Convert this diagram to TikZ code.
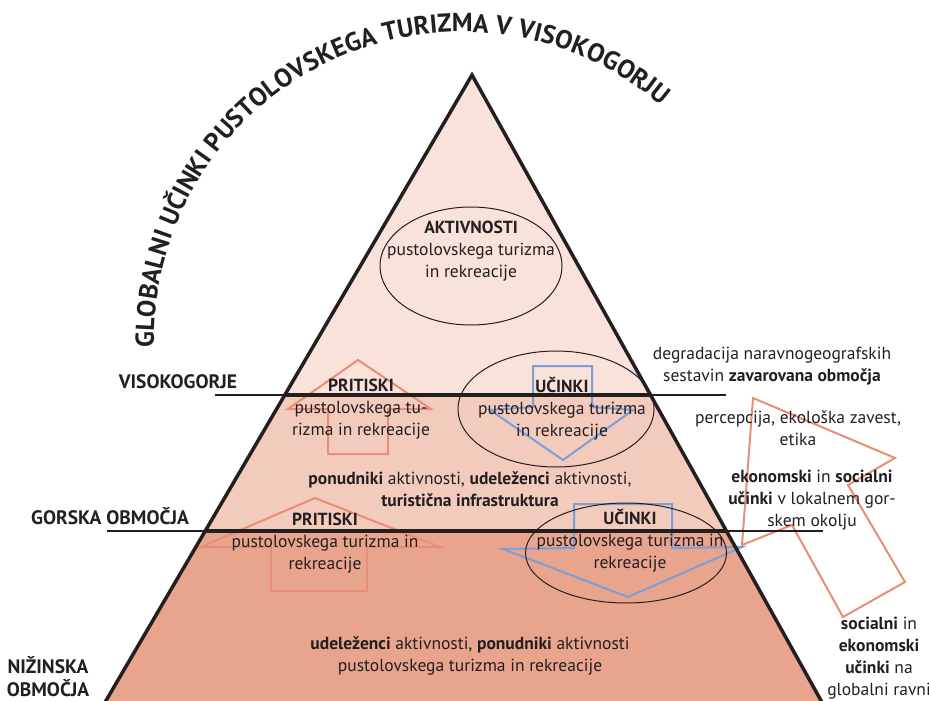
\documentclass[tikz,border=0pt]{standalone}
\usepackage{fontspec}
\setmainfont{PT Sans}
\usetikzlibrary{shapes.geometric,decorations.text}
\definecolor{topc}{HTML}{F9E2DA}
\definecolor{midc}{HTML}{F3CBBD}
\definecolor{lowc}{HTML}{E9A48D}
\definecolor{salm}{HTML}{E88E76}
\definecolor{blu}{HTML}{7B9FD6}
\definecolor{ink}{HTML}{231F20}
\begin{document}
\begin{tikzpicture}[x=1pt,y=1pt,
  txt/.style={font=\fontsize{17.5}{22}\selectfont, align=center, inner sep=0pt, text=ink},
  side/.style={font=\fontsize{19.5}{24}\selectfont\bfseries, align=center, inner sep=0pt, text=ink},
  ell/.style={draw=ink, line width=1, ellipse, inner sep=0pt},
  parr/.style={draw=salm, line width=2, line join=miter},
  barr/.style={draw=blu, line width=2, line join=miter},
  level/.style={draw=ink, line width=2},
  levelin/.style={draw=ink, line width=4}]
\useasboundingbox (0,0) rectangle (929,-701);
\clip (0,0) rectangle (929,-701);
% fills
\fill[topc] (472,-75) -- (650.6,-395) -- (284.8,-395) -- cycle;
\fill[midc] (284.8,-395) -- (650.6,-395) -- (726.4,-531) -- (205.2,-531) -- cycle;
\fill[lowc] (205.2,-531) -- (726.4,-531) -- (826.3,-710) -- (100.5,-710) -- cycle;
% title
\path[decorate, decoration={text along path, text align=center,
  text={|\fontsize{26}{26}\selectfont\bfseries\color{ink}|GLOBALNI UČINKI PUSTOLOVSKEGA TURIZMA V VISOKOGORJU}}]
  (462,-340) ++(205:308) arc[start angle=205, end angle=26, radius=308];
% arrows
\draw[parr] (358,-360) -- (431,-409) -- (388,-409) -- (388,-454) -- (328,-454) -- (328,-409) -- (288,-409) -- cycle;
\draw[barr] (533,-366) -- (592,-366) -- (592,-407) -- (633,-410) -- (563,-460) -- (490,-410) -- (533,-407) -- cycle;
\draw[parr] (315,-498) -- (440,-547) -- (367,-547) -- (367,-591) -- (271,-591) -- (271,-547) -- (201,-547) -- cycle;
\draw[barr] (574,-504) -- (672,-504) -- (672,-548) -- (742,-547) -- (628,-597) -- (503,-549) -- (574,-548) -- cycle;
\draw[parr] (753,-398) -- (895,-458) -- (848,-485) -- (905,-582) -- (843,-617) -- (792,-525) -- (742,-545) -- cycle;
% ellipses
\node[ell, minimum width=182, minimum height=118] (eA) at (471,-266) {};
\node[ell, minimum width=196, minimum height=116] (eU1) at (556,-409) {};
\node[ell, minimum width=201, minimum height=100] (eU2) at (626,-553) {};
% level lines
\draw[level] (215,-395) -- (726,-395);
\draw[levelin] (284.8,-395) -- (650.6,-395);
\draw[level] (107,-531) -- (823,-531);
\draw[levelin] (205.2,-531) -- (726.4,-531);
% pyramid outline
\draw[draw=ink, line width=3.5, line join=miter] (100.5,-710) -- (472,-75) -- (826.3,-710);
% texts
\node[txt] (aktiv) at (471,-251) {\textbf{AKTIVNOSTI}\\pustolovskega turizma\\in rekreacije};
\node[txt] (prit1) at (361,-409) {\textbf{PRITISKI}\\pustolovskega tu-\\rizma in rekreacije};
\node[txt] (ucin1) at (562,-409) {\textbf{UČINKI}\\pustolovskega turizma\\in rekreacije};
\node[txt] (mid) at (470,-489) {\textbf{ponudniki} aktivnosti, \textbf{udeleženci} aktivnosti,\\\textbf{turistična infrastruktura}};
\node[txt] (prit2) at (325,-543) {\textbf{PRITISKI}\\pustolovskega turizma in\\rekreacije};
\node[txt] (ucin2) at (630,-541) {\textbf{UČINKI}\\pustolovskega turizma in\\rekreacije};
\node[txt] (bot) at (470,-656) {\textbf{udeleženci} aktivnosti, \textbf{ponudniki} aktivnosti\\pustolovskega turizma in rekreacije};
\node[txt] (degr) at (772,-366) {degradacija naravnogeografskih\\sestavin \textbf{zavarovana območja}};
\node[txt] (perc) at (798,-428) {percepcija, ekološka zavest,\\etika};
\node[txt] (ekon) at (812,-500) {\textbf{ekonomski} in \textbf{socialni}\\\textbf{učinki} v lokalnem gor-\\skem okolju};
\node[txt] (glob) at (879,-658) {\textbf{socialni} in\\\textbf{ekonomski}\\\textbf{učinki} na\\globalni ravni};
\node[side] (lvis) at (178,-382) {VISOKOGORJE};
\node[side] (lgor) at (110,-516) {GORSKA OBMOČJA};
\node[side, font=\fontsize{19.5}{23}\selectfont\bfseries] (lniz) at (48,-677) {NIŽINSKA\\OBMOČJA};
\end{tikzpicture}
\end{document}
